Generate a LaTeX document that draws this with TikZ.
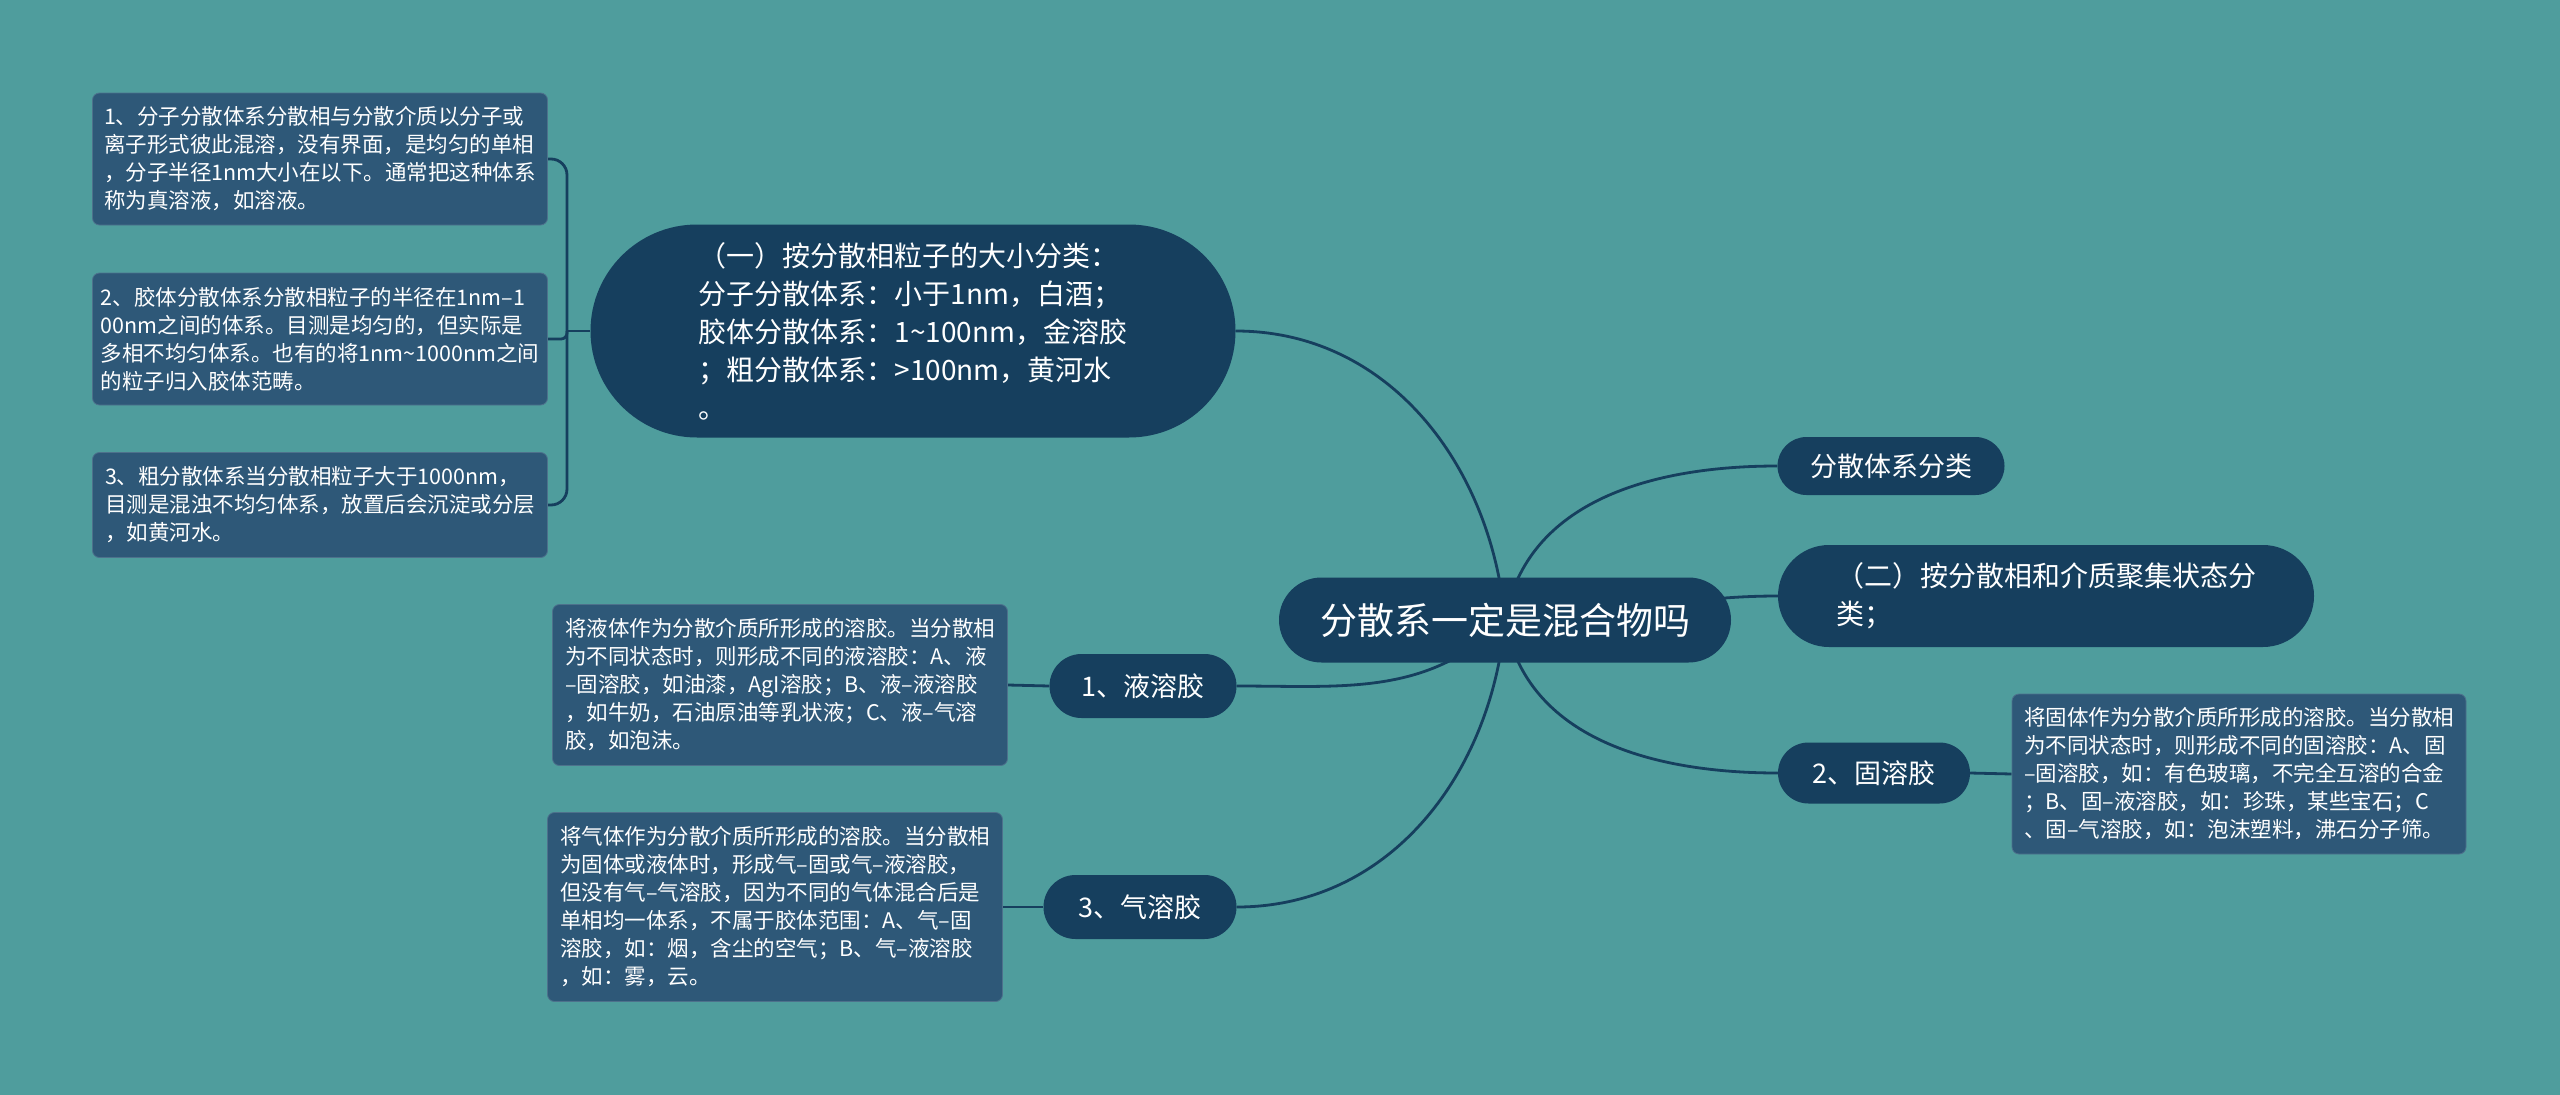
\documentclass[tikz,border=0pt]{standalone}
\usepackage{fontspec}
\setmainfont{Noto Sans CJK SC}
\usetikzlibrary{shapes.misc}
\pgfdeclarelayer{bg}
\pgfdeclarelayer{edges}
\pgfsetlayers{bg,edges,main}
\definecolor{tealbg}{HTML}{4F9D9D}
\definecolor{navy}{HTML}{163F5E}
\definecolor{leafblue}{HTML}{2E5878}

\begin{document}
\begin{tikzpicture}[
  x=1pt, y=1pt,
  font=\fontsize{21.5}{28}\selectfont,
  pill/.style={rounded rectangle, fill=navy, text=white, inner sep=0pt, align=left},
  note/.style={rectangle, rounded corners=7pt, fill=leafblue, draw=leafblue!85!white, line width=0.8pt, text=white, align=left, minimum width=455pt, inner sep=0pt},
  link/.style={draw=navy, line width=2.8pt},
]
\begin{pgfonlayer}{bg}
\fill[tealbg] (0,0) rectangle (2560,-1095);
\end{pgfonlayer}
\useasboundingbox (0,0) rectangle (2560,-1095);

% ---------------- centre and main branches ----------------
\node[pill, minimum width=452pt, minimum height=85pt, font=\fontsize{37}{44}\selectfont] (root) at (1505,-620) {分散系一定是混合物吗};
\node[pill, minimum width=645pt, minimum height=213pt, font=\fontsize{28}{38}\selectfont] (size) at (913,-331) {%
  （一）按分散相粒子的大小分类：\\
  分子分散体系：小于1nm，白酒；\\
  胶体分散体系：1\textasciitilde100nm，金溶胶\\
  ；粗分散体系：>100nm，黄河水\\
  。};
\node[pill, minimum width=227pt, minimum height=58pt, font=\fontsize{27}{34}\selectfont] (kind) at (1891,-466) {分散体系分类};
\node[pill, minimum width=536pt, minimum height=102pt, font=\fontsize{28}{38}\selectfont] (state) at (2046,-596) {%
  （二）按分散相和介质聚集状态分\\
  类；};
\node[pill, minimum width=187pt, minimum height=64pt, font=\fontsize{27}{34}\selectfont] (liq) at (1143,-686) {1、液溶胶};
\node[pill, minimum width=192pt, minimum height=61pt, font=\fontsize{27}{34}\selectfont] (sol) at (1874,-773) {2、固溶胶};
\node[pill, minimum width=193pt, minimum height=64pt, font=\fontsize{27}{34}\selectfont] (gas) at (1140,-907) {3、气溶胶};

% ---------------- notes ----------------
\node[note, minimum height=132pt] (n1) at (320,-159) {%
  1、分子分散体系分散相与分散介质以分子或\\
  离子形式彼此混溶，没有界面，是均匀的单相\\
  ，分子半径1nm大小在以下。通常把这种体系\\
  称为真溶液，如溶液。};
\node[note, minimum height=132pt] (n2) at (320,-339) {%
  2、胶体分散体系分散相粒子的半径在1nm–1\\
  00nm之间的体系。目测是均匀的，但实际是\\
  多相不均匀体系。也有的将1nm\textasciitilde1000nm之间\\
  的粒子归入胶体范畴。};
\node[note, minimum height=105pt] (n3) at (320,-505) {%
  3、粗分散体系当分散相粒子大于1000nm，\\
  目测是混浊不均匀体系，放置后会沉淀或分层\\
  ，如黄河水。};
\node[note, minimum height=161pt] (nliq) at (780,-685) {%
  将液体作为分散介质所形成的溶胶。当分散相\\
  为不同状态时，则形成不同的液溶胶：A、液\\
  –固溶胶，如油漆，AgI溶胶；B、液–液溶胶\\
  ，如牛奶，石油原油等乳状液；C、液–气溶\\
  胶，如泡沫。};
\node[note, minimum height=189pt] (ngas) at (775,-907) {%
  将气体作为分散介质所形成的溶胶。当分散相\\
  为固体或液体时，形成气–固或气–液溶胶，\\
  但没有气–气溶胶，因为不同的气体混合后是\\
  单相均一体系，不属于胶体范围：A、气–固\\
  溶胶，如：烟，含尘的空气；B、气–液溶胶\\
  ，如：雾，云。};
\node[note, minimum width=454pt, minimum height=160pt] (nsol) at (2239,-774) {%
  将固体作为分散介质所形成的溶胶。当分散相\\
  为不同状态时，则形成不同的固溶胶：A、固\\
  –固溶胶，如：有色玻璃，不完全互溶的合金\\
  ；B、固–液溶胶，如：珍珠，某些宝石；C\\
  、固–气溶胶，如：泡沫塑料，沸石分子筛。};

% ---------------- connectors ----------------
\coordinate (spine) at (567,-331);
\begin{pgfonlayer}{edges}
\draw[link] (root.center) to[out=95, in=0] (size.east);
\draw[link] (root.center) to[out=80, in=180] (kind.west);
\draw[link] (root.center) to[out=0, in=180] (state.west);
\draw[link] (root.center) to[out=-80, in=180] (sol.west);
\draw[link] (root.center) to[out=225, in=0] (liq.east);
\draw[link] (root.center) to[out=-95, in=0] (gas.east);
\draw[link] (liq.west) -- (nliq.east);
\draw[link] (gas.west) -- (ngas.east);
\draw[link] (sol.east) -- (nsol.west);
\draw[link] (size.west) -- (spine);
\draw[link, rounded corners=16pt] (spine) |- (n1.east);
\draw[link, rounded corners=6pt] (spine) |- (n2.east);
\draw[link, rounded corners=16pt] (spine) |- (n3.east);
\end{pgfonlayer}
\end{tikzpicture}
\end{document}
